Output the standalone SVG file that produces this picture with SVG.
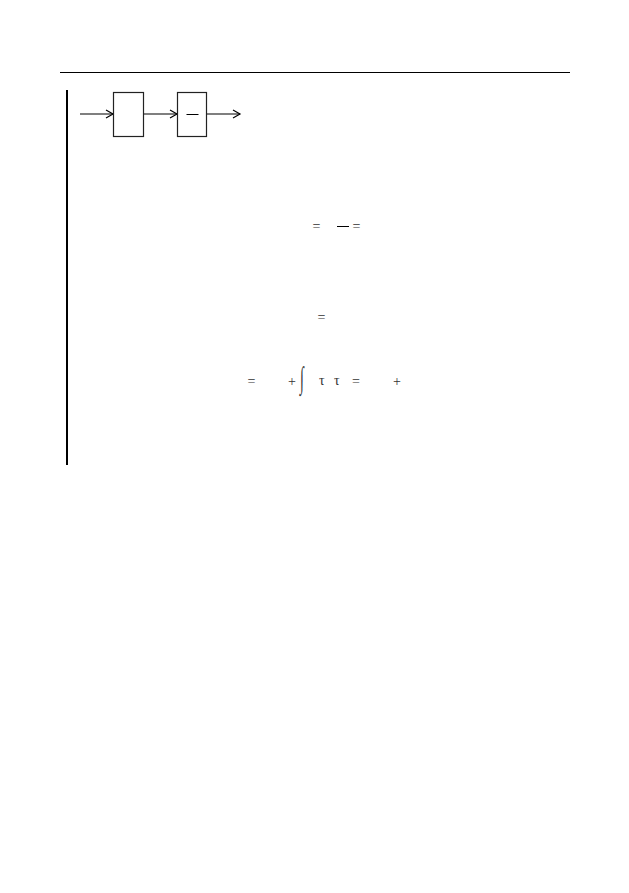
<svg xmlns="http://www.w3.org/2000/svg" width="629" height="893" viewBox="0 0 629 893">
<defs>
<marker id="ah" markerWidth="10" markerHeight="10" refX="8" refY="5" orient="auto" markerUnits="userSpaceOnUse">
<path d="M1,1 L8,5 L1,9" fill="none" stroke="#000" stroke-width="1.2"/>
</marker>
</defs>
<style>
.ln{stroke:#000;fill:none}
.box{fill:#fff;stroke:#222;stroke-width:1.2}
.t{font-family:"Liberation Serif","DejaVu Serif",serif;font-size:14px;fill:#333}
</style>
<rect width="629" height="893" fill="#fff"/>
<line class="ln" x1="60" y1="72.5" x2="570" y2="72.5" stroke-width="1"/>
<line class="ln" x1="67" y1="90" x2="67" y2="465" stroke-width="2"/>
<g id="connectors">
<line class="ln" x1="80" y1="114" x2="113" y2="114" stroke-width="1.2" marker-end="url(#ah)"/>
<line class="ln" x1="143" y1="114" x2="177" y2="114" stroke-width="1.2" marker-end="url(#ah)"/>
<line class="ln" x1="207" y1="114" x2="240" y2="114" stroke-width="1.2" marker-end="url(#ah)"/>
</g>
<g id="box1"><rect class="box" x="113.5" y="92.5" width="30" height="44"/></g>
<g id="box2"><rect class="box" x="177.5" y="92.5" width="29" height="44"/>
<line class="ln" x1="186.5" y1="114.5" x2="198.5" y2="114.5" stroke-width="1"/></g>
<g id="eq1">
<text class="t" x="312.5" y="230.5">=</text>
<line class="ln" x1="337" y1="226.5" x2="349" y2="226.5" stroke-width="1"/>
<text class="t" x="352.5" y="230.5">=</text>
</g>
<g id="eq2"><text class="t" x="317.5" y="321.5">=</text></g>
<g id="eq3">
<text class="t" x="247.5" y="385.5">=</text>
<text class="t" x="288" y="386">+</text>
<text class="t" transform="translate(300,388) scale(1,2.2)" x="0" y="0" font-size="16">∫</text>
<text class="t" x="319" y="385">τ</text>
<text class="t" x="334" y="385">τ</text>
<text class="t" x="352" y="385.5">=</text>
<text class="t" x="393" y="386">+</text>
</g>
</svg>
